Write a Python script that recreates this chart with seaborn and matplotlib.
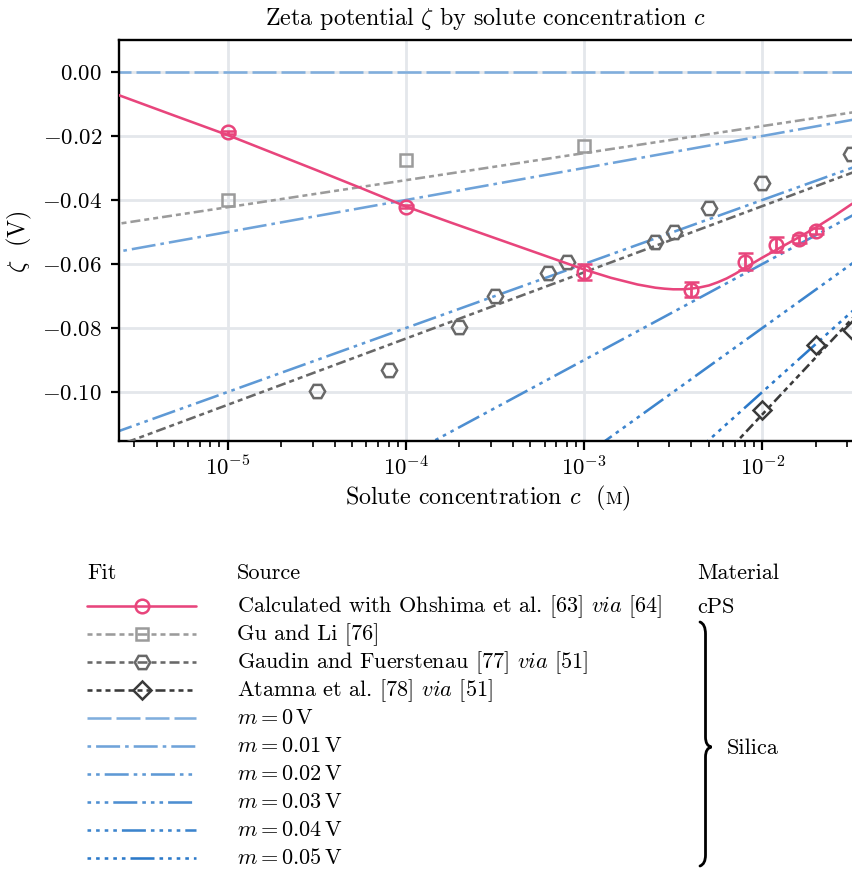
import numpy as np
import matplotlib
matplotlib.use("Agg")
import matplotlib.pyplot as plt
import seaborn as sns
from matplotlib.lines import Line2D
from matplotlib.path import Path
from matplotlib.patches import PathPatch
from matplotlib.transforms import IdentityTransform
from matplotlib.offsetbox import TextArea, HPacker, AnchoredOffsetbox
from matplotlib.ticker import FuncFormatter, FixedLocator

# ---------------------------------------------------------------- data
# cPS, calculated with Ohshima et al. (measured points with uncertainties)
cps_c = [1e-5, 1e-4, 1e-3, 4e-3, 8e-3, 1.2e-2, 1.6e-2, 2e-2]
cps_zeta = [-0.0188, -0.0421, -0.0625, -0.0680, -0.0593, -0.0539, -0.0521, -0.0496]
cps_err = [0.0005, 0.0005, 0.0025, 0.0024, 0.0026, 0.0022, 0.0012, 0.0010]

# cPS fitted curve
cps_fit_c = [2.443e-6, 5.012e-6, 1e-5, 1.778e-5, 3.162e-5, 5.623e-5, 1e-4,
             1.778e-4, 3.162e-4, 5.623e-4, 1e-3, 1.413e-3, 1.995e-3, 2.512e-3,
             2.818e-3, 3.162e-3, 3.548e-3, 3.981e-3, 4.467e-3, 5.012e-3, 5.623e-3,
             6.310e-3, 7.079e-3, 7.943e-3, 1e-2, 1.259e-2, 1.585e-2, 1.995e-2,
             2.512e-2, 3.206e-2]
cps_fit_zeta = [-0.0072, -0.0136, -0.0197, -0.0252, -0.0307, -0.0363, -0.0420,
                -0.0470, -0.0519, -0.0568, -0.0617, -0.0643, -0.0664, -0.0674,
                -0.0677, -0.0679, -0.0679, -0.0677, -0.0673, -0.0667, -0.0657,
                -0.0645, -0.0630, -0.0613, -0.0580, -0.0549, -0.0518, -0.0486,
                -0.0451, -0.0411]

# Silica, Gu and Li
gu_c = [1e-5, 1e-4, 1e-3]
gu_zeta = [-0.0400, -0.0275, -0.0230]
gu_fit = (0.00845, 0.0)          # (slope per decade, offset) in V

# Silica, Gaudin and Fuerstenau
gaudin_c = [3.16e-5, 8e-5, 2e-4, 3.16e-4, 6.3e-4, 8e-4, 2.5e-3, 3.2e-3, 5e-3, 1e-2, 3.16e-2]
gaudin_zeta = [-0.0997, -0.0930, -0.0798, -0.0700, -0.0627, -0.0595, -0.0530,
               -0.0499, -0.0426, -0.0348, -0.0256]
gaudin_fit = (0.0207, -0.0005)

# Silica, Atamna et al.
atamna_c = [1e-2, 2e-2, 3.2e-2]
atamna_zeta = [-0.1055, -0.0853, -0.0806]
atamna_fit = (0.0594, 0.0118)

# Model lines zeta = m * log10(c / 1 M)
m_values = [0.0, 0.01, 0.02, 0.03, 0.04, 0.05]

source_labels = [
    r"Calculated with Ohshima et al. [63] $\mathit{via}$ [64]",
    "Gu and Li [76]",
    r"Gaudin and Fuerstenau [77] $\mathit{via}$ [51]",
    r"Atamna et al. [78] $\mathit{via}$ [51]",
]
m_labels = [rf"$m = {m:g}\,\mathrm{{V}}$" for m in m_values]

# ---------------------------------------------------------------- style
sns.set_theme(style="whitegrid", rc={
    "axes.edgecolor": "black",
    "axes.linewidth": 1.7,
    "grid.color": "#e4e7eb",
    "grid.linewidth": 2.0,
    "xtick.bottom": True,
    "ytick.left": True,
    "xtick.major.size": 6.5,
    "xtick.minor.size": 4.5,
    "xtick.major.width": 1.6,
    "xtick.minor.width": 1.2,
    "ytick.major.size": 6.0,
    "ytick.major.width": 1.6,
    "xtick.color": "black",
    "ytick.color": "black",
})
plt.rcParams.update({
    "font.family": "serif",
    "font.serif": ["cmr10"],
    "mathtext.fontset": "cm",
    "axes.formatter.use_mathtext": True,
    "axes.unicode_minus": False,
    "font.size": 16,
    "xtick.labelsize": 16.5,
    "ytick.labelsize": 16.5,
    "text.color": "black",
})

PINK = "#e8457c"
GRAY_LIGHT = "#9b9b9b"
GRAY_MID = "#686868"
GRAY_DARK = "#3a3a3a"
BLUES = sns.blend_palette(["#80aedd", "#2b79c9"], n_colors=len(m_values))

LW = 1.85                      # line width in points
PX = LW * 100 / 72             # one dash unit in pixels


def dashes(*px):
    return (0, tuple(p / PX for p in px))


def m_style(i):
    return dashes(*((3.6, 5.0) * i + (24.0, 5.0)))


GU_LS = dashes(5.0, 4.0, 5.0, 4.0, 10.0, 4.0)
GAUDIN_LS = dashes(5.0, 4.0, 5.0, 4.0, 10.0, 4.0)
ATAMNA_LS = dashes(5.0, 4.0, 5.0, 4.0, 5.0, 4.0, 10.0, 4.0)
MEW = 1.8
LABEL_FS = 17.3

W, H = 852, 869
fig = plt.figure(figsize=(W / 100, H / 100), dpi=100)
ax = fig.add_axes([118.5 / W, 1 - 441 / H, (852.5 - 118.5) / W, (441 - 40) / H])
ax.set_xscale("log")

c_span = np.array([1e-6, 1e-1])

# model lines
for i, m in enumerate(m_values):
    sns.lineplot(x=c_span, y=m * np.log10(c_span), color=BLUES[i], lw=LW,
                 linestyle=m_style(i), ax=ax, zorder=2)

# empirical fits
for fit, col, ls in [(gu_fit, GRAY_LIGHT, GU_LS), (gaudin_fit, GRAY_MID, GAUDIN_LS),
                     (atamna_fit, GRAY_DARK, ATAMNA_LS)]:
    sns.lineplot(x=c_span, y=fit[0] * np.log10(c_span) + fit[1], color=col, lw=LW,
                 linestyle=ls, ax=ax, zorder=3)

# measured points
ax.plot(gu_c, gu_zeta, ls="none", marker="s", ms=8.4, mfc="none", mec=GRAY_LIGHT,
        mew=MEW, zorder=4)
ax.plot(gaudin_c, gaudin_zeta, ls="none", marker="H", ms=11.0, mfc="none", mec=GRAY_MID,
        mew=MEW, zorder=4)
ax.plot(atamna_c, atamna_zeta, ls="none", marker="D", ms=9.4, mfc="none", mec=GRAY_DARK,
        mew=MEW, zorder=4)

# cPS curve and data
sns.lineplot(x=cps_fit_c, y=cps_fit_zeta, color=PINK, lw=LW, ax=ax, zorder=5)
ax.errorbar(cps_c, cps_zeta, yerr=cps_err, fmt="o", ms=9.8, mfc="none", mec=PINK,
            mew=MEW, ecolor=PINK, elinewidth=2.0, capsize=5.4, capthick=2.6, zorder=6)

ax.set_xlim(2.443e-6, 3.206e-2)
ax.set_ylim(-0.1153, 0.01)
ax.yaxis.set_major_locator(FixedLocator([-0.10, -0.08, -0.06, -0.04, -0.02, 0.0]))


def yfmt(v, _):
    if abs(v) < 1e-12:
        v = 0.0
    return f"${v:.2f}$"


ax.yaxis.set_major_formatter(FuncFormatter(yfmt))
ax.tick_params(axis="y", pad=6)
ax.tick_params(axis="x", which="both", pad=3.5)
ax.grid(True, which="major", axis="both")
ax.grid(False, which="minor")
ax.spines["right"].set_visible(False)

ax.set_title(r"Zeta potential $\zeta$ by solute concentration $c$", fontsize=LABEL_FS, pad=11)
fig.text(19 / W, 1 - 242 / H, r"$\zeta$  (V)", rotation=90, ha="center", va="center",
         fontsize=LABEL_FS)

# x label with small-caps molar unit
xl = HPacker(children=[TextArea(r"Solute concentration $c$  (", textprops=dict(fontsize=LABEL_FS)),
                       TextArea("M", textprops=dict(fontsize=13)),
                       TextArea(")", textprops=dict(fontsize=LABEL_FS))],
             align="baseline", pad=0, sep=0)
fig.add_artist(AnchoredOffsetbox(loc="center", child=xl, frameon=False, pad=0, borderpad=0,
                                 bbox_to_anchor=(488 / W, 1 - 497 / H),
                                 bbox_transform=fig.transFigure))

# ---------------------------------------------------------------- legend table
fx = lambda px: px / W
fy = lambda py: 1 - py / H

fig.text(fx(87), fy(579), "Fit", ha="left", va="baseline", fontsize=16)
fig.text(fx(237), fy(579), "Source", ha="left", va="baseline", fontsize=16)
fig.text(fx(697), fy(579), "Material", ha="left", va="baseline", fontsize=16)
fig.text(fx(697), fy(613), "cPS", ha="left", va="baseline", fontsize=16)
fig.text(fx(727), fy(754), "Silica", ha="left", va="baseline", fontsize=16)

row_styles = [
    dict(color=PINK, ls="-", marker="o", ms=9.8, mec=PINK),
    dict(color=GRAY_LIGHT, ls=GU_LS, marker="s", ms=8.4, mec=GRAY_LIGHT),
    dict(color=GRAY_MID, ls=GAUDIN_LS, marker="H", ms=11.0, mec=GRAY_MID),
    dict(color=GRAY_DARK, ls=ATAMNA_LS, marker="D", ms=9.4, mec=GRAY_DARK),
] + [dict(color=BLUES[i], ls=m_style(i), marker=None) for i in range(len(m_values))]
labels = source_labels + m_labels

row0, step = 605.5, 28.0
for i, (st, lab) in enumerate(zip(row_styles, labels)):
    y = fy(row0 + step * i)
    fig.add_artist(Line2D([fx(87), fx(196)], [y, y], transform=fig.transFigure,
                          color=st["color"], ls=st["ls"], lw=LW))
    if st["marker"]:
        fig.add_artist(Line2D([fx(141.5)], [y], transform=fig.transFigure, ls="none",
                              marker=st["marker"], ms=st["ms"], mfc="none",
                              mec=st["mec"], mew=MEW))
    fig.text(fx(237), y - 6.5 / H, lab, ha="left", va="baseline", fontsize=16)

# curly brace grouping the silica rows (pixel coordinates, origin bottom-left)
bx, tip = 705.5, 711.5
pts = [(700, 622), (bx, 624), (bx, 634), (bx, 737), (bx, 746), (tip, 747),
       (bx, 748), (bx, 757), (bx, 855), (bx, 864), (700, 866)]
codes = [Path.MOVETO, Path.CURVE3, Path.CURVE3, Path.LINETO, Path.CURVE3, Path.CURVE3,
         Path.CURVE3, Path.CURVE3, Path.LINETO, Path.CURVE3, Path.CURVE3]
brace = Path([(x, H - y) for x, y in pts], codes)
fig.add_artist(PathPatch(brace, transform=IdentityTransform(), fill=False,
                         lw=2.0, edgecolor="black", capstyle="round"))

fig.savefig("out.png", dpi=100)
